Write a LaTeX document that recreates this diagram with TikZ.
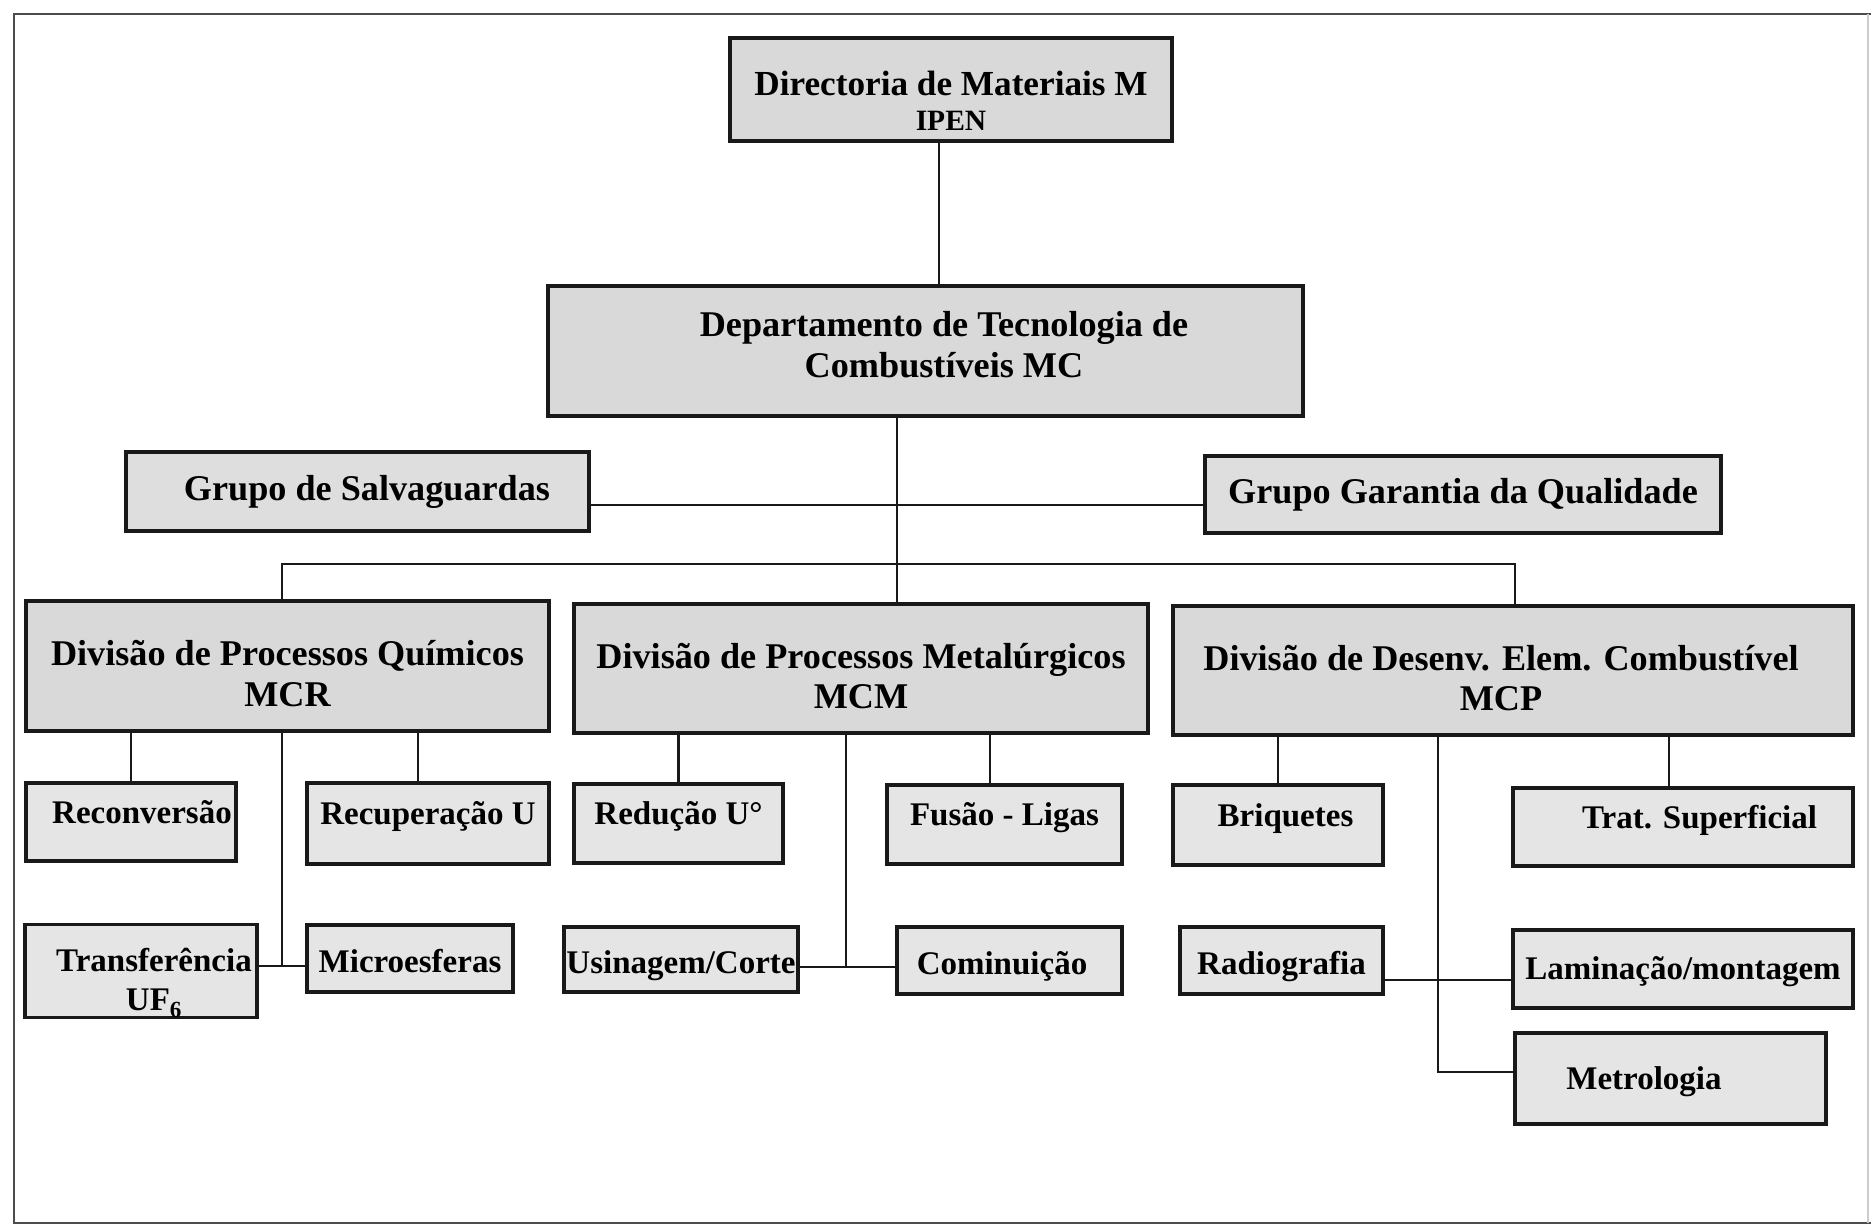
\documentclass[tikz,border=0pt]{standalone}
\usepackage{fontspec}
\setmainfont{Liberation Serif}
\begin{document}
\begin{tikzpicture}[x=1pt,y=-1pt,
  base/.style={draw=black!90, line width=3.2pt, inner sep=0pt, align=center},
  main/.style={base, fill=black!15, font=\fontsize{36.2}{40.5}\selectfont\bfseries},
  grp/.style={base, fill=black!13, font=\fontsize{36.2}{40.5}\selectfont\bfseries, text height=25pt, text depth=7.5pt},
  sub/.style={base, fill=black!10, font=\fontsize{33}{38.5}\selectfont\bfseries},
  upper/.style={sub, text height=24pt, text depth=21.5pt},
  lower/.style={sub, text height=35pt, text depth=7.5pt},
  mid/.style={sub, text height=29pt, text depth=7.5pt},
  conn/.style={line width=2.9pt, draw=black!90},
  frame/.style={line width=2.6pt, draw=black!70}]

\useasboundingbox (0,0) rectangle (1871,1226);
\draw[frame] (1871,14) -- (14,14) -- (14,1223) -- (1871,1223);
\draw[line width=1.5pt, black!20] (1868,14) -- (1868,1223);

% top levels
\node[main, minimum width=442pt, minimum height=103pt, font=\fontsize{35.2}{34.5}\selectfont\bfseries] (dir) at (951,89.5)
  {\rule{0pt}{53.5pt}Directoria de Materiais M\\{\fontsize{29.5}{34.5}\selectfont IPEN}\rule[-7pt]{0pt}{7pt}};
\node[main, minimum width=755pt, minimum height=130pt] (dep) at (925.5,351)
  {\hspace*{37pt}\rule{0pt}{24pt}Departamento de Tecnologia de\\\hspace*{37pt}Combustíveis MC\rule[-13.4pt]{0pt}{13.4pt}};

\node[grp, minimum width=463pt, minimum height=79pt] (gs) at (357.5,491.5) {\hspace*{19pt}Grupo de Salvaguardas};
\node[grp, minimum width=516pt, minimum height=77pt] (gq) at (1463,494.5) {Grupo Garantia da Qualidade};

% divisions
\node[main, minimum width=523pt, minimum height=130pt] (mcr) at (287.5,666)
  {\rule{0pt}{46pt}Divisão de Processos Químicos\\MCR\rule[-6.5pt]{0pt}{6.5pt}};
\node[main, minimum width=574pt, minimum height=129pt] (mcm) at (861,668.5)
  {\rule{0pt}{46pt}Divisão de Processos Metalúrgicos\\MCM\rule[-6.5pt]{0pt}{6.5pt}};
\node[main, minimum width=680pt, minimum height=129pt] (mcp) at (1513,670.5)
  {\rule{0pt}{46pt}Divisão de Desenv. Elem. Combustível\hspace*{24pt}\\MCP\hspace*{24pt}\rule[-6.5pt]{0pt}{6.5pt}};

% row 1
\node[upper, minimum width=210pt, minimum height=78pt] (rec) at (131,822) {\hspace*{22pt}Reconversão};
\node[upper, minimum width=242pt, minimum height=81pt] (recu) at (428,823.5) {Recuperação U};
\node[upper, minimum width=209pt, minimum height=79pt] (red) at (678.5,823.5) {Redução U°};
\node[upper, minimum width=235pt, minimum height=79pt] (fus) at (1004.5,824.5) {Fusão - Ligas};
\node[upper, minimum width=210pt, minimum height=80pt] (bri) at (1278,825) {\hspace*{15pt}Briquetes};
\node[upper, minimum width=340pt, minimum height=78pt] (trat) at (1683,827) {\hspace*{33pt}Trat. Superficial};

% row 2
\node[sub, minimum width=232pt, minimum height=92pt] (tra) at (141,971)
  {\hspace*{26pt}\rule{0pt}{47pt}Transferência\\\hspace*{26pt}UF\textsubscript{6}\rule[-5.5pt]{0pt}{5.5pt}};
\node[lower, minimum width=206pt, minimum height=67pt] (mic) at (410,958.5) {Microesferas};
\node[lower, minimum width=234pt, minimum height=65pt] (usi) at (681,959.5) {Usinagem/Corte};
\node[lower, minimum width=225pt, minimum height=67pt] (com) at (1009.5,960.5) {Cominuição\hspace*{15pt}};
\node[lower, minimum width=203pt, minimum height=67pt] (rad) at (1281.5,960.5) {Radiografia};
\node[mid, minimum width=340pt, minimum height=78pt] (lam) at (1683,969) {Laminação/montagem};
\node[mid, minimum width=311pt, minimum height=91pt] (met) at (1670.5,1078.5) {Metrologia\hspace*{53pt}};

% connectors
\draw[conn] (dir.south -| 939,0) -- (dep.north -| 939,0);
\draw[conn] (dep.south -| 897,0) -- (mcm.north -| 897,0);
\draw[conn] (gs.east |- 0,505) -- (gq.west |- 0,505);
\draw[conn] (mcr.north -| 282,0) -- (282,564) -| (mcp.north -| 1515,0);

\draw[conn] (mcr.south -| rec.north) -- (rec.north);
\draw[conn] (mcr.south -| 418,0) -- (recu.north -| 418,0);
\draw[conn] (mcm.south -| red.north) -- (red.north);
\draw[conn] (mcm.south -| 990,0) -- (fus.north -| 990,0);
\draw[conn] (mcp.south -| bri.north) -- (bri.north);
\draw[conn] (mcp.south -| 1669,0) -- (trat.north -| 1669,0);

\draw[conn] (mcr.south -| 282,0) -- (282,966);
\draw[conn] (tra.east |- 0,966) -- (mic.west |- 0,966);
\draw[conn] (mcm.south -| 846,0) -- (846,967);
\draw[conn] (usi.east |- 0,967) -- (com.west |- 0,967);
\draw[conn] (mcp.south -| 1438,0) |- (met.west |- 0,1072);
\draw[conn] (rad.east |- 0,980) -- (lam.west |- 0,980);
\end{tikzpicture}
\end{document}
